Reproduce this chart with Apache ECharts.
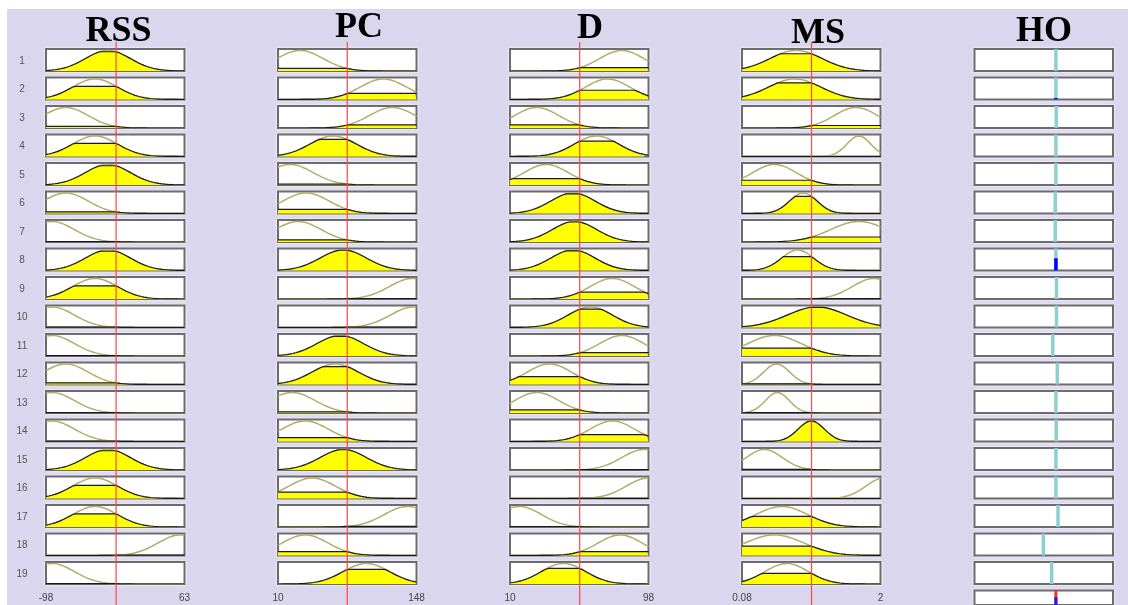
<!DOCTYPE html>
<html><head><meta charset="utf-8">
<script src="https://cdn.jsdelivr.net/npm/echarts@6/dist/echarts.min.js"></script>
<style>
html,body{margin:0;padding:0;background:#fff;}
#bg{position:absolute;left:7px;top:9px;width:1121px;height:596px;background:#dad6ee;}
#c{position:absolute;left:0;top:0;width:1128px;height:605px;}
</style>
</head><body><div id="bg"></div><div id="c"></div>
<script>
// ---------- data ----------
const inputNames = ['RSS', 'PC', 'D', 'MS'];
const outputName = 'HO';
const ruleNumbers = ['1','2','3','4','5','6','7','8','9','10','11','12','13','14','15','16','17','18','19'];

const rssRange = [-98, 63];
const pcRange = [10, 148];
const dRange = [10, 98];
const msRange = [0.08, 2];
const hoRange = [0, 1];

const rssInput = -16.5;
const pcInput = 79;
const dInput = 54.3;
const msInput = 1.044;

// Gaussian membership functions used by each rule (centre, sigma)
const rssCenter = [-26, -41, -75, -41, -26, -75, -91, -26, -41, -91, -91, -75, -91, -91, -26, -41, -41, 58, -91];
const rssSigma  = [26, 26, 26, 26, 26, 26, 26, 26, 26, 26, 26, 26, 26, 26, 26, 26, 26, 26, 26];
const pcCenter  = [32, 115, 124, 65, 22, 38, 30, 75, 144, 145, 72, 67, 24, 37, 75, 44, 139, 37, 98];
const pcSigma   = [23, 23, 23, 23, 23, 23, 23, 23, 23, 23, 23, 23, 23, 23, 23, 23, 23, 23, 23];
const dCenter   = [81, 72, 27, 65, 33, 50, 51, 50, 75, 61, 81, 35, 27, 75, 95, 98, 16, 80, 44];
const dSigma    = [14, 14, 14, 14, 14, 14, 14, 14, 14, 14, 14, 14, 14, 14, 14, 14, 14, 14, 14];
const msCenter  = [0.83, 0.81, 1.66, 1.70, 0.53, 0.93, 1.70, 0.85, 1.91, 1.12, 0.53, 0.56, 0.57, 1.04, 0.39, 2.05, 0.63, 0.53, 0.70];
const msSigma   = [0.36, 0.36, 0.30, 0.165, 0.30, 0.19, 0.39, 0.22, 0.30, 0.41, 0.37, 0.18, 0.165, 0.18, 0.25, 0.25, 0.36, 0.41, 0.30];

// output singleton position of each rule (fraction of HO range)
const hoValue = [0.588, 0.588, 0.59, 0.588, 0.588, 0.583, 0.583, 0.588, 0.592, 0.592, 0.565, 0.598, 0.588, 0.59, 0.588, 0.588, 0.603, 0.497, 0.557];

// ---------- build ----------
const inputs = [
  {range: rssRange, input: rssInput, c: rssCenter, s: rssSigma},
  {range: pcRange,  input: pcInput,  c: pcCenter,  s: pcSigma},
  {range: dRange,   input: dInput,   c: dCenter,   s: dSigma},
  {range: msRange,  input: msInput,  c: msCenter,  s: msSigma}
];
function mf(x, c, s) { return Math.exp(-((x - c) * (x - c)) / (2 * s * s)); }

const COL_LEFT = [46, 278, 510, 742, 974.5];
const COL_TITLE_X = [118.5, 359, 590, 818, 1044];
const COL_TITLE_Y = [32, 28, 28.5, 33.5, 32];
const CW = 138.5, TOP0 = 49, STEP = 28.5, CH = 22, YMAX = 1.07;
const NS = 140;

const grids = [], xAxes = [], yAxes = [], series = [], graphics = [];

function addGrid(left, top, h, xr, showBox, labels) {
  const gi = grids.length;
  grids.push({
    left: left, top: top, width: CW, height: h, show: showBox,
    backgroundColor: '#ffffff', borderColor: '#6c6c6c', borderWidth: 2,
    shadowColor: 'rgba(255,255,255,0.9)', shadowBlur: showBox ? 3 : 0
  });
  xAxes.push({
    gridIndex: gi, type: 'value', min: xr[0], max: xr[1], show: !!labels,
    axisLine: {show: false}, axisTick: {show: false}, splitLine: {show: false},
    axisLabel: labels ? {customValues: [xr[0], xr[1]], color: '#444', fontSize: 10,
      fontFamily: 'Liberation Sans', margin: 9} : {show: false}
  });
  yAxes.push({gridIndex: gi, type: 'value', min: 0, max: showBox ? YMAX : 1, show: false});
  return gi;
}

const firing = [];
for (let r = 0; r < ruleNumbers.length; r++) {
  let f = 1;
  for (let v = 0; v < inputs.length; v++) f *= mf(inputs[v].input, inputs[v].c[r], inputs[v].s[r]);
  firing.push(f);
}

// input cells
for (let v = 0; v < inputs.length; v++) {
  const iv = inputs[v];
  for (let r = 0; r < ruleNumbers.length; r++) {
    const top = TOP0 + r * STEP;
    const gi = addGrid(COL_LEFT[v], top, CH, iv.range, true, r === ruleNumbers.length - 1);
    const level = mf(iv.input, iv.c[r], iv.s[r]);
    const curve = [], fill = [];
    for (let i = 0; i <= NS; i++) {
      const x = iv.range[0] + (iv.range[1] - iv.range[0]) * i / NS;
      const y = mf(x, iv.c[r], iv.s[r]);
      curve.push([x, y]);
      fill.push([x, Math.min(y, level)]);
    }
    series.push({type: 'line', xAxisIndex: gi, yAxisIndex: gi, data: curve, showSymbol: false,
      silent: true, z: 2, lineStyle: {color: '#b3ad6c', width: 1.5}});
    series.push({type: 'line', xAxisIndex: gi, yAxisIndex: gi, data: fill, showSymbol: false,
      silent: true, z: 3, lineStyle: {color: '#1a1a1a', width: 1.2},
      areaStyle: {color: '#ffff00', opacity: 1}});
  }
}

// output cells
for (let r = 0; r < ruleNumbers.length; r++) {
  const top = TOP0 + r * STEP;
  const gi = addGrid(COL_LEFT[4], top, CH, hoRange, true, false);
  series.push({type: 'line', xAxisIndex: gi, yAxisIndex: gi, showSymbol: false, silent: true, z: 3,
    data: [[hoValue[r], 0], [hoValue[r], YMAX]], lineStyle: {color: '#8ecfd0', width: 3.5}});
  series.push({type: 'line', xAxisIndex: gi, yAxisIndex: gi, showSymbol: false, silent: true, z: 4,
    data: [[hoValue[r], 0], [hoValue[r], firing[r]]], lineStyle: {color: '#0000ff', width: 3.5}});
}
// aggregated output row
{
  let sw = 0, swv = 0, mx = 0;
  for (let r = 0; r < firing.length; r++) { sw += firing[r]; swv += firing[r] * hoValue[r]; mx = Math.max(mx, firing[r]); }
  const out = swv / sw;
  const gi = addGrid(COL_LEFT[4], TOP0 + ruleNumbers.length * STEP, CH, hoRange, true, false);
  series.push({type: 'line', xAxisIndex: gi, yAxisIndex: gi, showSymbol: false, silent: true, z: 3,
    data: [[out, 0], [out, YMAX]], lineStyle: {color: '#ff2a2a', width: 3}});
  series.push({type: 'line', xAxisIndex: gi, yAxisIndex: gi, showSymbol: false, silent: true, z: 4,
    data: [[out, 0], [out, mx]], lineStyle: {color: '#1a1aff', width: 3}});
}

// red input lines
for (let v = 0; v < inputs.length; v++) {
  const gi = addGrid(COL_LEFT[v], 42, 563, inputs[v].range, false, false);
  series.push({type: 'line', xAxisIndex: gi, yAxisIndex: gi, showSymbol: false, silent: true, z: 10,
    data: [[inputs[v].input, 0], [inputs[v].input, 1]], lineStyle: {color: '#ff4545', width: 1.2}});
}

// titles
const titles = inputNames.concat([outputName]);
titles.forEach((t, i) => {
  graphics.push({type: 'text', x: COL_TITLE_X[i], y: COL_TITLE_Y[i], z: 20,
    style: {text: t, font: 'bold 36px "Liberation Serif"', fill: '#000',
      textAlign: 'center', textVerticalAlign: 'middle', align: 'center', verticalAlign: 'middle'}});
});
// rule numbers
ruleNumbers.forEach((t, r) => {
  graphics.push({type: 'text', x: 22, y: TOP0 + r * STEP + CH / 2 + 1, z: 20,
    style: {text: t, font: '10px "Liberation Sans"', fill: '#555',
      textAlign: 'center', textVerticalAlign: 'middle', align: 'center', verticalAlign: 'middle'}});
});

const chart = echarts.init(document.getElementById('c'), null, {renderer: 'canvas'});
chart.setOption({
  animation: false,
  backgroundColor: 'transparent',
  grid: grids, xAxis: xAxes, yAxis: yAxes, series: series,
  graphic: {elements: graphics}
});
</script>
</body></html>
